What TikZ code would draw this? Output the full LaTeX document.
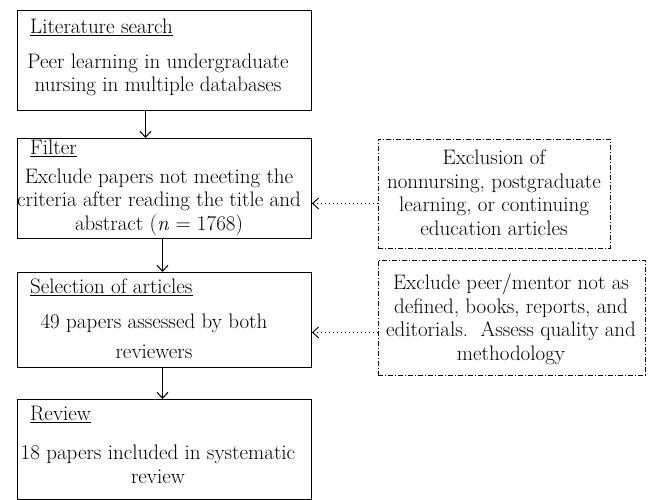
\documentclass[tikz,border=0pt]{standalone}
\usepackage{fontspec}
\usetikzlibrary{arrows.meta}
\tikzset{
  mainbox/.style={draw, line width=1pt, anchor=north west, inner sep=0pt},
  sidebox/.style={draw, line width=0.9pt, dash pattern=on 5pt off 2pt on 1pt off 2pt, anchor=north west, inner sep=0pt},
  txt/.style={font=\fontsize{21}{23.5}\selectfont, inner sep=0pt, anchor=base, align=center},
  head/.style={txt, anchor=base west},
  flow/.style={line width=1pt, -{Straight Barb[length=6pt,width=11pt]}},
  sideflow/.style={line width=0.9pt, dash pattern=on 1pt off 3pt, -{Straight Barb[length=6pt,width=11pt]}}
}
\begin{document}
\begin{tikzpicture}[x=1pt,y=-1pt]
\useasboundingbox (0,0) rectangle (648,500);
% main boxes
\node[mainbox, minimum width=294pt, minimum height=100pt] (b1) at (17,10) {};
\node[mainbox, minimum width=294pt, minimum height=100pt] (b2) at (17,138) {};
\node[mainbox, minimum width=294pt, minimum height=95pt] (b3) at (17,272) {};
\node[mainbox, minimum width=294pt, minimum height=100pt] (b4) at (17,399) {};
% side boxes
\node[sidebox, minimum width=232pt, minimum height=109pt] (d1) at (378,139) {};
\node[sidebox, minimum width=267pt, minimum height=115pt] (d2) at (378,260) {};
% texts (anchor = baseline of last line)
\node[head] (h1) at (30,34) {\underline{Literature search}};
\node[txt] (t1) at (158,92) {Peer learning in undergraduate\\nursing in multiple databases};
\node[head] (h2) at (30,155) {\underline{Filter}};
\node[txt] (t2) at (159,230) {Exclude papers not meeting the\\criteria after reading the title and\\abstract (\textit{n}~=~1768)};
\node[head] (h3) at (30,293) {\underline{Selection of articles}};
\node[txt] (t3) at (154,358) {49 papers assessed by both\\[6.5pt]reviewers};
\node[head] (h4) at (30,420) {\underline{Review}};
\node[txt] (t4) at (158,483) {18 papers included in systematic\\review};
\node[txt] (s1) at (494,235) {Exclusion of\\nonnursing, postgraduate\\learning, or continuing\\education articles};
\node[txt] (s2) at (511,360) {Exclude peer/mentor not as\\defined, books, reports, and\\editorials.\ \ Assess quality and\\methodology};
% connectors
\draw[flow] ([xshift=-19pt]b1.south) -- ([xshift=-19pt]b2.north);
\draw[flow] ([xshift=-2pt]b2.south) -- ([xshift=-2pt]b3.north);
\draw[flow] ([xshift=-2pt]b3.south) -- ([xshift=-2pt]b4.north);
\draw[sideflow] ([yshift=-9.5pt]d1.west) -- ([yshift=-9.5pt]d1.west -| b2.east);
\draw[sideflow] ([yshift=-14.5pt]d2.west) -- ([yshift=-14.5pt]d2.west -| b3.east);
\end{tikzpicture}
\end{document}
